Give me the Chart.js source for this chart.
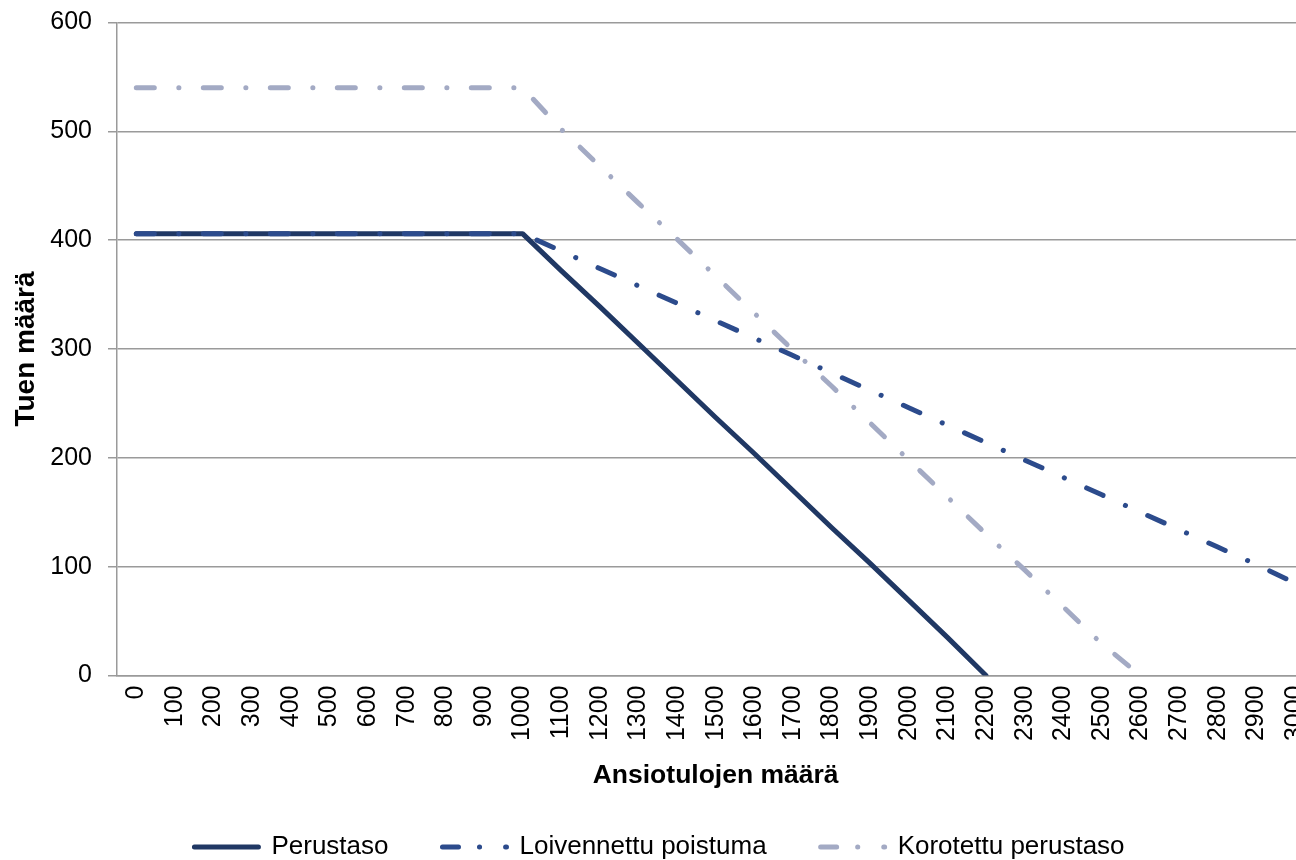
<!DOCTYPE html>
<html>
<head>
<meta charset="utf-8">
<script src="https://cdn.jsdelivr.net/npm/chart.js@4/dist/chart.umd.min.js"></script>
<style>
  html, body { margin:0; padding:0; background:#fff; overflow:hidden; }
  #wrap { width:1335px; height:870px; }
</style>
</head>
<body>
<div id="wrap"><canvas id="chart" width="1335" height="870"></canvas></div>
<script>
// Ansiotulojen määrä (x categories)
const incomes = ['0','100','200','300','400','500','600','700','800','900','1000',
  '1100','1200','1300','1400','1500','1600','1700','1800','1900','2000',
  '2100','2200','2300','2400','2500','2600','2700','2800','2900','3000'];

// Tuen määrä per series
const perustaso = [406,406,406,406,406,406,406,406,406,406,406,
  372,339,305,271,237,204,170,136,103,69,
  35,0,null,null,null,null,null,null,null,null];
const loivennettu = [406,406,406,406,406,406,406,406,406,406,406,
  390,374,358,342,326,310,294,278,262,246,
  230,214,198,182,166,150,134,118,102,85];
const korotettu = [540,540,540,540,540,540,540,540,540,540,540,
  502,468,434,401,367,333,299,266,232,198,
  164,130,97,63,29,0,null,null,null,null];

const yTicks = [0,100,200,300,400,500,600];

const FONT = "'Liberation Sans', Arial, Helvetica, sans-serif";
const dashDot = [18, 24.5, 0.1, 24.4];
const legendDash = [16, 21, 0.1, 26];
const grey = '#9a9a9a';

// nudge the legend a little to the left, like in the original
const legendShift = {
  id:'legendShift',
  afterLayout(chart){
    chart.legend.left -= 8;
    chart.legend.right -= 8;
  }
};

const ctx = document.getElementById('chart').getContext('2d');
new Chart(ctx, {
  type: 'line',
  data: {
    labels: incomes,
    datasets: [
      { label:'Perustaso', data:perustaso, borderColor:'#203864', backgroundColor:'#203864',
        borderWidth:5, borderCapStyle:'round', borderJoinStyle:'round', order:2 },
      { label:'Loivennettu poistuma', data:loivennettu, borderColor:'#2c4b8c', backgroundColor:'#2c4b8c',
        borderWidth:5, borderDash:dashDot, borderCapStyle:'round', borderJoinStyle:'round', order:1 },
      { label:'Korotettu perustaso', data:korotettu, borderColor:'#a3aac4', backgroundColor:'#a3aac4',
        borderWidth:5, borderDash:dashDot, borderCapStyle:'round', borderJoinStyle:'round', order:0 }
    ]
  },
  plugins:[legendShift],
  options: {
    responsive:false,
    devicePixelRatio:1,
    animation:false,
    layout:{ padding:{ top:0, left:0, right:0, bottom:0 } },
    elements:{ point:{ radius:0, hitRadius:0, hoverRadius:0 }, line:{ tension:0 } },
    plugins:{
      tooltip:{ enabled:false },
      legend:{
        position:'bottom',
        labels:{
          usePointStyle:true,
          pointStyle:'line',
          pointStyleWidth:64,
          padding:54,
          color:'#000',
          font:{ family:FONT, size:26 },
          sort:(a,b) => a.datasetIndex - b.datasetIndex,
          generateLabels: chart => Chart.defaults.plugins.legend.labels.generateLabels(chart).map(item => {
            const ds = chart.data.datasets[item.datasetIndex];
            return Object.assign(item, {
              lineDash: ds.borderDash ? legendDash : [], lineWidth:5, lineCap:'round',
              strokeStyle: ds.borderColor, rotation:180, pointStyle:'line'
            });
          })
        }
      }
    },
    scales:{
      x:{
        offset:true,
        grid:{ display:false, drawTicks:false },
        border:{ display:true, color:grey, width:1.5 },
        ticks:{ autoSkip:false, maxRotation:90, minRotation:90, padding:10, color:'#000',
          font:{ family:FONT, size:25 } },
        title:{ display:true, text:'Ansiotulojen määrä', color:'#000',
          font:{ family:FONT, size:26.5, weight:'bold', lineHeight:0.3 }, padding:{ top:0, bottom:0 } },
        afterFit: s => { s.height = 104.5; }
      },
      y:{
        min:0, max:600,
        afterBuildTicks: s => { s.ticks = yTicks.map(v => ({ value:v })); },
        grid:{ color:grey, lineWidth:1.5, tickLength:9, drawTicks:true },
        border:{ display:true, color:grey, width:1.5 },
        ticks:{ padding:16, color:'#000', font:{ family:FONT, size:25, lineHeight:0.52 } },
        title:{ display:true, text:'Tuen määrä', color:'#000',
          font:{ family:FONT, size:28, weight:'bold', lineHeight:0.54 }, padding:{ top:18.5, bottom:0 } },
        afterFit: s => { s.width = 117; }
      }
    }
  }
});
</script>
</body>
</html>
